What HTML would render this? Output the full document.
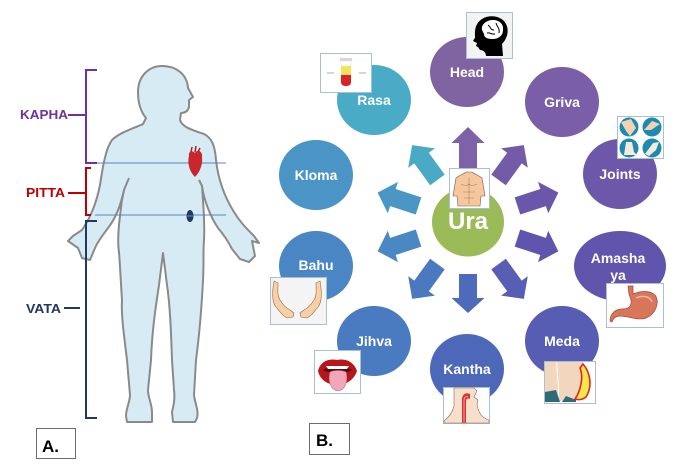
<!DOCTYPE html>
<html><head><meta charset="utf-8"><style>
html,body{margin:0;padding:0;background:#fff;}
svg{display:block;}
text{font-family:"Liberation Sans",Arial,sans-serif;font-weight:bold;}
</style></head><body>
<svg width="675" height="472" viewBox="0 0 675 472" xmlns="http://www.w3.org/2000/svg">
<rect width="675" height="472" fill="#fff"/>

<!-- ===== Panel A: body ===== -->
<path d="M146 118 C141 112 138 104 138 92 C138 76 149 66 162 66 C176 66 187 74 188 88 L193 97 L189 100 L189 107 C188 111 185 113 181 113 L180 120 C182 127 192 130 204 134 C212 138 215 146 216 160 C218 178 224 196 234 212 C240 222 246 228 254 236 L259 243 L252 241 L255 256 L249 262 L240 259 L232 249 C228 241 224 235 218 228 C210 216 204 200 202 186 C203 200 205 222 204 240 C203 252 204 262 203 280 C202 300 200 330 196 360 L194 395 C195 404 199 410 197 418 L195 422 L173 422 L172 412 C174 404 175 398 174 390 L172 360 C171 330 170 305 167 285 L163 253 L159 285 C156 305 152 330 151 360 L148 390 C148 398 152 404 152 412 L152 422 L127 422 L126 416 C126 408 130 402 130 395 L127 360 C124 335 121 315 122 300 C121 285 120 265 119 252 C117 240 119 222 122 200 L124 190 C121 204 116 218 108 228 C103 235 98 241 95 248 L90 260 L82 258 L78 248 L68 241 L73 236 L82 230 C90 218 96 205 100 185 C103 165 106 148 112 140 C120 132 135 128 143 124 Z" fill="#d6ebf4" stroke="#8a8a8a" stroke-width="2" stroke-linejoin="round"/>
<!-- inner arm lines -->
<path d="M124 190 L129 178" fill="none" stroke="#8a8a8a" stroke-width="2"/>
<path d="M202 186 L199 180" fill="none" stroke="#8a8a8a" stroke-width="2"/>

<!-- horizontal lines -->
<line x1="95" y1="163" x2="226" y2="163" stroke="#5b86c2" stroke-width="1"/>
<line x1="95" y1="215" x2="226" y2="215" stroke="#5b86c2" stroke-width="1"/>

<!-- heart -->
<path d="M189 156 C188 151 193 150 195 153 C197 149 203 151 202 157 C203 164 200 172 195 177 C190 172 187 164 189 156 Z" fill="#c8282c"/>
<path d="M191 152 L192 147 M195 152 L196 146 M198 152 L200 148" stroke="#b02020" stroke-width="1.5"/>
<!-- navel/organ dot -->
<ellipse cx="190" cy="216" rx="3.5" ry="6" fill="#1f3864"/>
<line x1="187" y1="216" x2="193" y2="216" stroke="#6a8ab8" stroke-width="1"/>

<!-- brackets -->
<path d="M97 70 L86 70 L86 163 L97 163" fill="none" stroke="#7030a0" stroke-width="2"/>
<line x1="68" y1="115" x2="86" y2="115" stroke="#7030a0" stroke-width="2"/>
<path d="M91 168 L86 168 L86 215 L91 215" fill="none" stroke="#c00000" stroke-width="2"/>
<line x1="68" y1="193" x2="86" y2="193" stroke="#c00000" stroke-width="2"/>
<path d="M97 221 L86 221 L86 418 L97 418" fill="none" stroke="#1f3864" stroke-width="2"/>
<line x1="64" y1="308" x2="80" y2="308" stroke="#1f3864" stroke-width="2"/>

<text x="20" y="119" font-size="12.5" fill="#7030a0" textLength="48" lengthAdjust="spacingAndGlyphs">KAPHA</text>
<text x="26" y="197" font-size="12.5" fill="#c00000" textLength="39" lengthAdjust="spacingAndGlyphs">PITTA</text>
<text x="26" y="313" font-size="12.5" fill="#1f3864" textLength="35" lengthAdjust="spacingAndGlyphs">VATA</text>

<!-- A. box -->
<rect x="36.5" y="428.5" width="39" height="30" fill="#fff" stroke="#6d6d6d" stroke-width="1"/>
<text x="42" y="452" font-size="17" fill="#000">A.</text>

<!-- ===== Panel B ===== -->
<!-- arrows -->
<g>
<g transform="translate(468,222) rotate(-90)"><polygon points="52,-9 79,-9 79,-16.5 95,0 79,16.5 79,9 52,9" fill="#7d62a7"/></g>
<g transform="translate(468,222) rotate(-54)"><polygon points="52,-9 79,-9 79,-16.5 95,0 79,16.5 79,9 52,9" fill="#745ba8"/></g>
<g transform="translate(468,222) rotate(-18)"><polygon points="52,-9 79,-9 79,-16.5 95,0 79,16.5 79,9 52,9" fill="#6a56aa"/></g>
<g transform="translate(468,222) rotate(18)"><polygon points="52,-9 79,-9 79,-16.5 95,0 79,16.5 79,9 52,9" fill="#5f55ae"/></g>
<g transform="translate(468,222) rotate(54)"><polygon points="52,-9 79,-9 79,-16.5 95,0 79,16.5 79,9 52,9" fill="#575eb4"/></g>
<g transform="translate(468,222) rotate(90)"><polygon points="52,-9 76,-9 76,-16.5 91,0 76,16.5 76,9 52,9" fill="#4e6bbb"/></g>
<g transform="translate(468,222) rotate(126)"><polygon points="52,-9 79,-9 79,-16.5 95,0 79,16.5 79,9 52,9" fill="#4a79c0"/></g>
<g transform="translate(468,222) rotate(162)"><polygon points="52,-9 79,-9 79,-16.5 95,0 79,16.5 79,9 52,9" fill="#4a88c3"/></g>
<g transform="translate(468,222) rotate(198)"><polygon points="52,-9 79,-9 79,-16.5 95,0 79,16.5 79,9 52,9" fill="#4a97c6"/></g>
<g transform="translate(468,222) rotate(234)"><polygon points="52,-9 79,-9 79,-16.5 95,0 79,16.5 79,9 52,9" fill="#4aaac6"/></g>
</g>

<!-- circles -->
<ellipse cx="467" cy="72" rx="37" ry="35" fill="#8064a2"/>
<ellipse cx="562" cy="102" rx="37" ry="35" fill="#7a5ea7"/>
<ellipse cx="620" cy="174" rx="37" ry="35" fill="#6c57a9"/>
<ellipse cx="620" cy="266" rx="46" ry="35" fill="#6054ad"/>
<ellipse cx="562" cy="341" rx="37" ry="35" fill="#565db3"/>
<ellipse cx="467" cy="369" rx="37" ry="35" fill="#4d68b9"/>
<ellipse cx="374" cy="341" rx="37" ry="35" fill="#4a7abf"/>
<ellipse cx="316" cy="266" rx="37" ry="35" fill="#4a86c3"/>
<ellipse cx="316" cy="175" rx="37" ry="35" fill="#4a94c6"/>
<ellipse cx="374" cy="100" rx="37" ry="35" fill="#4aabc6"/>
<ellipse cx="468" cy="222" rx="36" ry="34.5" fill="#9bbb59"/>

<!-- labels -->
<g font-size="14" fill="#fff" text-anchor="middle">
<text x="467" y="77">Head</text>
<text x="562" y="107">Griva</text>
<text x="620" y="179">Joints</text>
<text x="618" y="263">Amasha</text>
<text x="618" y="280">ya</text>
<text x="562" y="346">Meda</text>
<text x="467" y="374">Kantha</text>
<text x="374" y="346">Jihva</text>
<text x="316" y="270">Bahu</text>
<text x="316" y="180">Kloma</text>
<text x="374" y="105">Rasa</text>
<text x="468" y="229" font-size="24">Ura</text>
</g>

<!-- Head image -->
<rect x="466.5" y="12.5" width="46" height="46" fill="#f3f3f3" stroke="#a9bfd3" stroke-width="1"/>
<path d="M476 42 C474 34 474 24 482 19 C490 14 502 16 506 24 C510 32 506 40 502 44 L503 56 L486 56 C486 52 483 50 480 50 L478 47 L476 46 L477 43 L473 41 L476 36 Z" fill="#000"/>
<path d="M482 30 C481 24 487 20 493 20 C499 20 504 24 503 30 C503 36 498 39 493 39 C488 39 484 38 484 34 Z" fill="#fff"/>
<path d="M488 25 C491 27 490 30 494 30 M496 23 C497 27 500 28 499 33 M487 33 C490 32 492 35 495 34" fill="none" stroke="#000" stroke-width="1"/>

<!-- Rasa image -->
<rect x="320.5" y="53.5" width="51" height="39" fill="#fff" stroke="#a9bfd3" stroke-width="1"/>
<line x1="327" y1="73" x2="334" y2="73" stroke="#c8c8c8" stroke-width="1.5"/>
<line x1="359" y1="73" x2="366" y2="73" stroke="#c8c8c8" stroke-width="1.5"/>
<rect x="340" y="58" width="12" height="3" fill="#d8d8d8"/>
<rect x="341" y="61" width="10" height="5" fill="#fff" stroke="#e0e0e0" stroke-width="0.5"/>
<rect x="341" y="66" width="10" height="9" fill="#f2e35a"/>
<path d="M341 75 L351 75 L351 82 C351 85 349 86 346 86 C343 86 341 85 341 82 Z" fill="#d82424"/>

<!-- Joints image -->
<rect x="617.5" y="116.5" width="46" height="42" fill="#fff" stroke="#a9bfd3" stroke-width="1"/>
<circle cx="629" cy="127" r="9.5" fill="#1d8ab0"/>
<circle cx="652" cy="127" r="9.5" fill="#1d8ab0"/>
<circle cx="629" cy="148" r="9.5" fill="#1d8ab0"/>
<circle cx="652" cy="148" r="9.5" fill="#1d8ab0"/>
<path d="M621 122 L631 119 L636 128 L630 136 L626 131 Z" fill="#f4d2b0"/>
<path d="M644 130 L652 121 L660 124 L651 130 Z" fill="#f4d2b0"/>
<path d="M626 142 L632 142 L634 152 L637 155 L624 155 Z" fill="#f8ead8"/>
<path d="M645 154 L653 143 L659 142 L656 150 L649 156 Z" fill="#f8ead8"/>

<!-- Ura image -->
<rect x="449.5" y="168.5" width="40" height="40" fill="#fff" stroke="#a9bfd3" stroke-width="1"/>
<path d="M456 178 C460 175 464 174 466 172 L472 172 C474 174 478 175 482 178 L485 196 L481 196 L480 206 L458 206 L457 196 L453 196 Z" fill="#f6c79f" stroke="#7a5a40" stroke-width="0.6"/>
<path d="M469 178 L469 204 M461 184 C465 186 467 186 469 184 C471 186 473 186 477 184 M463 192 L475 192 M464 198 L474 198" fill="none" stroke="#a8805e" stroke-width="0.6"/>

<!-- Bahu image -->
<rect x="270.5" y="277.5" width="56" height="47" fill="#f4f4f4" stroke="#a9bfd3" stroke-width="1"/>
<path d="M274 281 L278 283 C278 290 277 295 280 300 C283 305 286 308 290 310 L294 313 L293 317 L287 318 C283 316 280 312 276 307 C272 302 272 292 274 281 Z" fill="#f9d0a5" stroke="#8a6a50" stroke-width="0.6"/>
<path d="M320 281 L316 283 C316 290 317 295 314 300 C311 305 308 308 304 310 L300 313 L301 317 L307 318 C311 316 314 312 318 307 C322 302 322 292 320 281 Z" fill="#f9d0a5" stroke="#8a6a50" stroke-width="0.6"/>

<!-- Jihva image -->
<rect x="314.5" y="350.5" width="46" height="43" fill="#fff" stroke="#a9bfd3" stroke-width="1"/>
<path d="M318 371 C320 362 328 358 337 360 C346 358 354 362 357 371 C354 380 346 385 337 385 C328 385 320 380 318 371 Z" fill="#b8161a"/>
<path d="M323 370 C328 366 346 366 352 370 C348 374 328 374 323 370 Z" fill="#5a0a0a"/>
<path d="M326 366 L349 366 L347 369 L328 369 Z" fill="#fff"/>
<path d="M330 372 C334 370 342 370 346 372 C348 380 346 390 338 391 C330 390 328 380 330 372 Z" fill="#f2a6b8" stroke="#c07080" stroke-width="0.6"/>

<!-- Kantha image -->
<rect x="443.5" y="387.5" width="46" height="36" fill="#fff" stroke="#a9bfd3" stroke-width="1"/>
<path d="M454 388 L454 406 C452 414 448 418 444 421 L444 423 L489 423 L489 420 C482 418 478 412 477 404 L478 400 L474 397 L477 391 L474 388 Z" fill="#f7dfcc" stroke="#8a6a50" stroke-width="0.6"/>
<path d="M462 423 L462 400 C462 394 466 392 470 394 L470 399 C468 398 466 398 466 402 L466 423 Z" fill="#d83434"/>
<path d="M464 423 L464 401 C464 397 466 396 468 397" fill="none" stroke="#f3a0a0" stroke-width="1"/>

<!-- Meda image -->
<rect x="544.5" y="361.5" width="51" height="42" fill="#fff" stroke="#a9bfd3" stroke-width="1"/>
<path d="M545 362 L583 362 C586 372 588 384 582 395 L575 400 L545 402 Z" fill="#f2d6bd"/>
<path d="M557 362 C556 372 560 384 558 400" fill="none" stroke="#ffffff" stroke-width="1"/>
<path d="M583 364 C590 372 593 386 586 397 C582 400 578 400 575 399 C580 392 584 378 580 368 Z" fill="#f6e64a" stroke="#d82828" stroke-width="1.6"/>
<path d="M545 392 L556 390 L560 402 L545 402 Z" fill="#2f6a7a"/>
<path d="M562 402 L566 396 L576 400 L576 402 Z" fill="#2f6a7a"/>

<!-- Amashaya image -->
<rect x="606.5" y="283.5" width="57" height="44" fill="#fff" stroke="#a9bfd3" stroke-width="1"/>
<path d="M628 286 L633 286 L633 294 C640 291 650 290 655 295 C660 302 656 314 646 318 C638 321 628 316 620 316 C615 316 613 319 612 322 L610 321 C610 314 615 309 622 309 C628 309 632 307 631 300 L629 294 Z" fill="#d8765c" stroke="#9c4a34" stroke-width="0.7"/>
<path d="M636 298 C642 295 650 296 652 302" fill="none" stroke="#f0b8a0" stroke-width="1.5"/>

<!-- B. box -->
<rect x="309.5" y="423.5" width="40" height="31" fill="#fff" stroke="#6d6d6d" stroke-width="1"/>
<text x="316" y="446" font-size="17" fill="#000">B.</text>
</svg>
</body></html>
